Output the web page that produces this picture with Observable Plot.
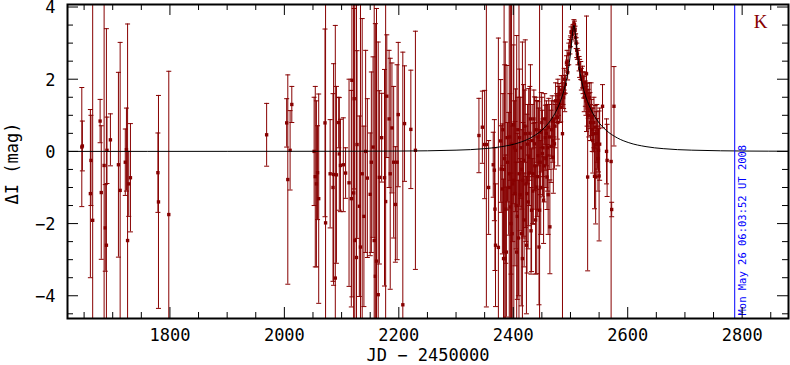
<!DOCTYPE html>
<html><head><meta charset="utf-8">
<script src="https://cdn.jsdelivr.net/npm/d3@7"></script>
<script src="https://cdn.jsdelivr.net/npm/@observablehq/plot@0.6"></script>
<style>body{margin:0;background:#fff}svg{display:block}</style>
</head><body><div id="chart"></div>
<script>
// Observations: JD - 2450000, ΔI (mag), error (mag)
const jd = [
 1646,1647,1661,1662,1665,1678,1680,1685,1687,1689,1690,1696,1710,1713,1722,1724,1726,1728,1731,1779,1780,1798,
 1969,2004,2006,2010,2013,
 2052,2054,2056,2058,2060,2071,2072,2080,2085,2086,2089,2091,2095,2096,2098,2103,2107,2113,2117,2118,2121,2122,2123,2126,2127,2131,2133,2136,2139,2142,2145,2150,2152,2155,2157,2159,2161,2164,2166,2170,2175,2177,2179,2183,2185,2188,2191,2194,2197,2199,2207,2210,2221,2229,
 2340,2346,2350,2353,2357,2365,2367,2368,2369,2374,2378,2379,2381,2383,2384,2385,2386,2388,2389,2392,2393,2395,2397,2398,2400,2401,2403,2404,2406,2407,2410,2411,2414,2416,2417,2418,2421,2424,2427,2430,2432,2435,2437,2441,2443,2445,2446,2449,2451,2453,2456,2459,2462,2464,2466,2468,2470,2472,2474,2477,2480,2483,2486,2488,2491,2493,2495,2500,2503,2505,2507,2509,2512,2515,2518,2521,2523,2526,2528,2530,2531,2534,2537,2540,2543,2544,2545,2547,2549,2550,2556,2563,2564,2571,2572,2576,
 2382,2387,2390,2394,2396,2399,2402,2405,2408,2409,2412,2413,2415,2419,2420,2422,2423,2425,2426,2428,2429,2431,2433,2434,2436,2438,2439,2440,2442,2444,2447,2448,2450,2452,2454,2455,2457,2458,2460,2461,2463,2467,2469,2471,2473,2476,2478,2479,2481,2484,2487,2489,2490,2494,2497,2499,2501,2504,2506,2508,2510,2511,2513,2516,2519,2522,2524,2525,2527,2529,2532,2533,2535,2536,2538,2539,2541,2542,2546,2548,2551
];
const dmag = [
 0.12,0.15,-1.17,-0.25,-1.91,0.84,-1.14,-0.39,-2.12,-2.6,0.03,0.32,-0.37,-1.08,-0.3,0.05,-2.47,-0.9,-0.73,-0.59,-1.4,-1.75,
 0.46,0.79,-0.78,0.03,1.3,
 0.0,-0.7,-0.9,-0.59,-1.31,0.79,-1.98,-0.62,-1.0,-0.64,-3.51,-0.65,0.8,-0.07,-0.39,-0.37,-0.6,-0.87,-1.31,1.97,-1.15,1.46,-2.47,-2.94,0.19,-1.52,-2.65,-0.62,-1.8,0.0,-0.74,-1.19,-0.3,0.12,-2.47,-3.46,-3.04,-3.97,-0.72,0.38,-0.73,-1.39,1.53,0.9,-0.62,0.65,-0.3,-1.47,-0.3,1.02,-4.25,0.77,0.61,0.03,
 0.44,0.67,0.19,0.19,-1.0,-0.37,-0.52,-1.6,-2.6,-2.66,0.29,-0.49,-1.04,-2.97,-0.5,-0.2,-2.97,-2.79,0.38,-0.62,-1.0,-1.54,0.2,-2.28,0.75,-0.8,-1.17,0.03,-2.79,-1.8,-0.62,0.38,-2.28,-2.97,-0.8,-0.25,0.49,-1.17,-0.16,0.9,-1.63,-0.62,0.21,-0.99,-0.12,-2.65,-1.63,0.53,-0.06,-1.35,0.38,-0.71,0.67,-2.09,0.14,0.84,-0.16,0.21,1.4,0.94,1.58,1.22,0.49,1.49,1.86,2.45,2.18,3.05,3.23,3.42,3.51,3.16,2.7,2.43,2.24,2.06,1.78,1.6,2.15,-0.71,1.32,1.13,0.94,0.49,0.67,-0.71,0.2,0.21,0.03,-0.68,1.25,0.0,-0.25,-0.28,-1.61,1.25,
 0.6,-1.6,-0.3,0.4,-2.0,-0.9,0.1,-1.5,0.6,-2.4,-1.2,0.1,-0.5,-1.9,0.7,-0.9,-2.6,0.2,-1.4,-0.6,0.5,-2.2,0.3,-1.1,0.9,-0.4,-1.9,0.6,-0.7,0.4,-0.3,-1.0,0.8,0.1,-0.4,0.9,-0.2,0.5,0.1,-1.2,0.4,0.6,0.3,0.9,0.7,1.2,0.8,1.4,1.3,1.7,1.6,2.0,1.6,2.5,2.7,2.9,3.3,3.4,3.55,3.35,3.0,2.8,2.6,2.3,2.0,1.9,1.5,1.9,1.4,1.2,1.0,1.5,0.8,1.1,0.6,0.3,0.8,-0.69,0.5,-0.2,0.2
];
const err = [
 1.65,0.69,2.33,1.25,7,0.6,1.85,6,1.2,6,0.92,0.72,2.56,4.1,0.92,1.15,6,0.9,1.5,1.1,2.95,3.97,
 0.87,0.67,2.9,1.1,0.5,
 1.5,2.5,2.3,1.3,2.9,2.6,7,1.5,2.6,3.07,7,2.45,0.7,1.56,1.28,1.3,0.7,2.87,3.0,6,7,2.5,7,7,2.6,2.5,7,4.3,2.5,2.8,2.2,1.7,2.5,2.5,7,7,7,7,2.4,1.23,3.0,7,1.7,1.9,3.2,1.8,2.1,1.6,2.7,2.0,7,1.6,1.64,3.3,
 1.03,1.0,1.5,4.5,1.3,0.9,1.4,1.7,1.7,5.8,1.7,1.2,1.8,2.2,6,2.6,6,1.8,2.0,1.7,6,6,6,2.5,2.2,6,2.0,1.7,6,2.3,6,1.9,2.0,6,1.6,2.1,2.6,2.2,1.9,1.5,1.7,1.4,1.3,2.4,1.5,1.6,6,1.1,1.2,1.2,0.9,0.9,0.8,1.3,1.0,0.7,1.0,0.7,0.5,0.6,0.3,0.4,6,0.3,0.25,0.2,0.2,0.15,0.12,0.1,0.1,0.1,0.15,0.2,0.25,0.3,0.3,0.35,1.6,2.6,0.4,0.5,0.5,0.5,0.6,1.3,0.9,0.7,0.6,1.8,0.6,0.9,1.0,6,0.2,1.1,
 1.0,1.5,1.1,1.2,1.4,1.6,1.3,1.2,0.9,1.6,1.0,1.4,1.1,1.3,1.0,1.6,1.9,1.1,1.3,0.9,1.3,1.2,1.0,0.9,0.8,1.2,1.5,0.9,1.1,0.8,0.9,1.3,0.7,0.8,1.0,0.7,0.8,0.9,1.2,1.1,0.9,0.8,0.6,0.5,0.6,0.4,1.2,0.4,0.5,0.4,0.3,0.3,0.5,0.3,0.3,0.2,0.15,0.1,0.1,0.12,0.15,0.2,0.2,0.25,0.3,0.3,0.4,0.3,0.4,0.5,0.6,0.4,0.5,0.8,0.6,0.9,0.7,0.9,0.8,0.9,1.0
];
// Model light curve
const modelJD = [1621,1900,2100,2200,2300,2350,2380,2410,2430,2450,2465,2475,2485,2492,2498,2502,2504,2506,2508,2510,2514,2520,2527,2537,2547,2562,2582,2602,2632,2662,2712,2812,2881];
const modelMag = [0.0,0.001,0.004,0.009,0.034,0.076,0.132,0.241,0.372,0.59,0.855,1.118,1.505,1.915,2.458,3.01,3.33,3.495,3.33,3.01,2.458,1.915,1.505,1.118,0.855,0.59,0.372,0.241,0.132,0.076,0.034,0.009,0.005];
const markerJD = [2787];
const markerLabel = ["Mon May 26 06:03:52 UT 2008"];
const bandLabel = ["K"];
const xMajor = [1800,2000,2200,2400,2600,2800];
const xMinor = [1650,1700,1750,1850,1900,1950,2050,2100,2150,2250,2300,2350,2450,2500,2550,2650,2700,2750,2850];
const yMajor = [-4,-2,0,2,4];
const yMinor = [-4.5,-3.5,-3,-2.5,-1.5,-1,-0.5,0.5,1,1.5,2.5,3,3.5];

const RED = "#870000";
const W = 790, H = 365, ML = 67, MR = 2, MT = 4, MB = 47;
const PW = W - ML - MR, PH = H - MT - MB;
const obs = jd.map((t, i) => ({t, m: dmag[i], e: err[i]}));
const model = modelJD.map((t, i) => ({t, m: modelMag[i]}));
const marker = markerJD.map((t, i) => ({t, label: markerLabel[i]}));
const cap = {draw(ctx) { ctx.moveTo(-2.5, 0); ctx.lineTo(2.5, 0); }};
const fmt = d3.format("d");

const chart = Plot.plot({
  width: W, height: H,
  marginLeft: ML, marginRight: MR, marginTop: MT, marginBottom: MB,
  x: {domain: [1621, 2881]},
  y: {domain: [-4.63, 4.07]},
  style: {fontFamily: "DejaVu Sans Mono", fontSize: "17px", background: "white", color: "black"},
  marks: [
    Plot.ruleX(obs, {x: "t", y1: d => d.m - d.e, y2: d => d.m + d.e, stroke: RED, strokeWidth: 1, clip: true}),
    Plot.dot(obs, {x: "t", y: d => d.m - d.e, symbol: cap, r: 2, stroke: RED, strokeWidth: 1, clip: true}),
    Plot.dot(obs, {x: "t", y: d => d.m + d.e, symbol: cap, r: 2, stroke: RED, strokeWidth: 1, clip: true}),
    Plot.dot(obs, {x: "t", y: "m", symbol: "square", r: 1.9, fill: RED, stroke: "none", clip: true}),
    Plot.line(model, {x: "t", y: "m", stroke: "black", strokeWidth: 1, curve: "monotone-x", clip: true}),
    Plot.ruleX(marker, {x: "t", stroke: "#0000ff", strokeWidth: 1}),
    Plot.text(marker, {x: "t", text: "label", frameAnchor: "bottom", dy: -3, dx: 11, rotate: -90,
      textAnchor: "start", lineAnchor: "bottom", fill: "#0000ff", fontSize: 10.5, fontFamily: "DejaVu Sans Mono"}),
    Plot.text(bandLabel, {frameAnchor: "top-right", dx: -28, dy: 17, textAnchor: "middle", lineAnchor: "middle",
      fill: RED, fontFamily: "Liberation Serif", fontSize: 19}),
    // inward ticks on all four sides
    Plot.tickX(xMajor, {x: d => d, insetTop: PH - 11, stroke: "black"}),
    Plot.tickX(xMinor, {x: d => d, insetTop: PH - 6, stroke: "black"}),
    Plot.tickX(xMajor, {x: d => d, insetBottom: PH - 11, stroke: "black"}),
    Plot.tickX(xMinor, {x: d => d, insetBottom: PH - 6, stroke: "black"}),
    Plot.tickY(yMajor, {y: d => d, insetRight: PW - 11, stroke: "black"}),
    Plot.tickY(yMinor, {y: d => d, insetRight: PW - 6, stroke: "black"}),
    Plot.tickY(yMajor, {y: d => d, insetLeft: PW - 11, stroke: "black"}),
    Plot.tickY(yMinor, {y: d => d, insetLeft: PW - 6, stroke: "black"}),
    Plot.axisX({ticks: xMajor, tickSize: 0, tickPadding: 10, tickFormat: fmt, label: null, anchor: "bottom"}),
    Plot.axisY({ticks: yMajor, tickSize: 0, tickPadding: 12, tickFormat: fmt, label: null, anchor: "left", dy: 1}),
    Plot.text(["JD − 2450000"], {frameAnchor: "bottom", dy: 37, lineAnchor: "middle", textAnchor: "middle"}),
    Plot.text(["ΔI (mag)"], {frameAnchor: "left", dx: -55, dy: 2, rotate: -90, lineAnchor: "middle", textAnchor: "middle"}),
    Plot.frame({stroke: "black", strokeWidth: 2})
  ]
});
document.getElementById("chart").appendChild(chart);
</script>
</body></html>
